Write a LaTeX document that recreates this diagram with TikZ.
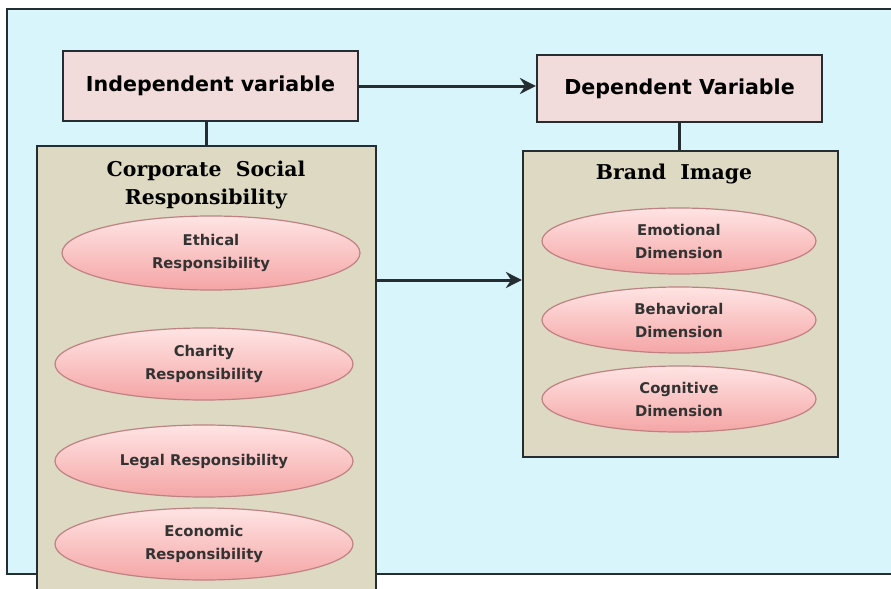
\documentclass[tikz,border=0pt]{standalone}
\usepackage{fontspec}
\setsansfont{DejaVu Sans}
\newfontfamily\titlefont{DejaVu Serif}
\usetikzlibrary{shapes.geometric,arrows.meta}
\definecolor{framefill}{RGB}{217,245,252}
\definecolor{varfill}{RGB}{242,220,219}
\definecolor{groupfill}{RGB}{221,217,195}
\definecolor{ovaltop}{RGB}{255,228,228}
\definecolor{ovalbottom}{RGB}{245,165,165}
\definecolor{ovalline}{RGB}{190,130,130}
\definecolor{edge}{RGB}{35,45,50}

\begin{document}
\begin{tikzpicture}[x=0.5pt,y=-0.5pt,
        varbox/.style={draw=edge, line width=1.1pt, fill=varfill, font=\sffamily\bfseries\fontsize{10.3}{12}\selectfont},
        groupbox/.style={draw=edge, line width=1.1pt, fill=groupfill},
        grouptitle/.style={font=\titlefont\bfseries\fontsize{10.2}{14}\selectfont, align=center},
        oval/.style={ellipse, draw=ovalline, line width=0.6pt, top color=ovaltop, bottom color=ovalbottom,
            inner sep=0pt, align=center, text=black!80, font=\sffamily\bfseries\fontsize{7.4}{11.5}\selectfont},
        link/.style={draw=edge, line width=1.1pt},
        flow/.style={draw=edge, line width=1.5pt, -{Stealth[length=8pt,width=8pt]}}]
        \useasboundingbox (0,0) rectangle (891,589);
        \clip (0,0) rectangle (891,589);
        \fill[white] (0,0) rectangle (891,589);
        \draw[fill=framefill, draw=edge, line width=1.1pt] (7,9) rectangle (900,574);

        \node[varbox, minimum width=147.5pt, minimum height=35pt] (iv) at (210.5,86) {Independent variable};
        \node[varbox, minimum width=142.5pt, minimum height=33.5pt] (dv) at (679.5,88.5) {Dependent Variable};

        \node[groupbox, minimum width=169.5pt, minimum height=237pt] (csr) at (206.5,383) {};
        \node[groupbox, minimum width=157.5pt, minimum height=153pt] (bi) at (680.5,304) {};
        \node[grouptitle] (csrtitle) at (206,185) {Corporate\ \ Social\\Responsibility};
        \node[grouptitle] (bititle) at (674,174) {Brand\ \ Image};

        \node[oval, minimum width=149pt, minimum height=37pt] (ethical) at (211,253) {Ethical\\Responsibility};
        \node[oval, minimum width=149pt, minimum height=36pt] (charity) at (204,364) {Charity\\Responsibility};
        \node[oval, minimum width=149pt, minimum height=36pt] (legal) at (204,461) {Legal Responsibility};
        \node[oval, minimum width=149pt, minimum height=36pt] (economic) at (204,544) {Economic\\Responsibility};

        \node[oval, minimum width=137pt, minimum height=33pt] (emotional) at (679,241) {Emotional\\Dimension};
        \node[oval, minimum width=137pt, minimum height=33pt] (behavioral) at (679,320) {Behavioral\\Dimension};
        \node[oval, minimum width=137pt, minimum height=33pt] (cognitive) at (679,399) {Cognitive\\Dimension};

        \coordinate (mid) at (450,280);
        \draw[link] (csr.north) -- (csr.north |- iv.south);
        \draw[link] (dv.south) -- (dv.south |- bi.north);
        \draw[flow] (iv.east) -- (iv.east -| dv.west);
        \draw[flow] (csr.east |- mid) -- (bi.west |- mid);
\end{tikzpicture}
\end{document}
